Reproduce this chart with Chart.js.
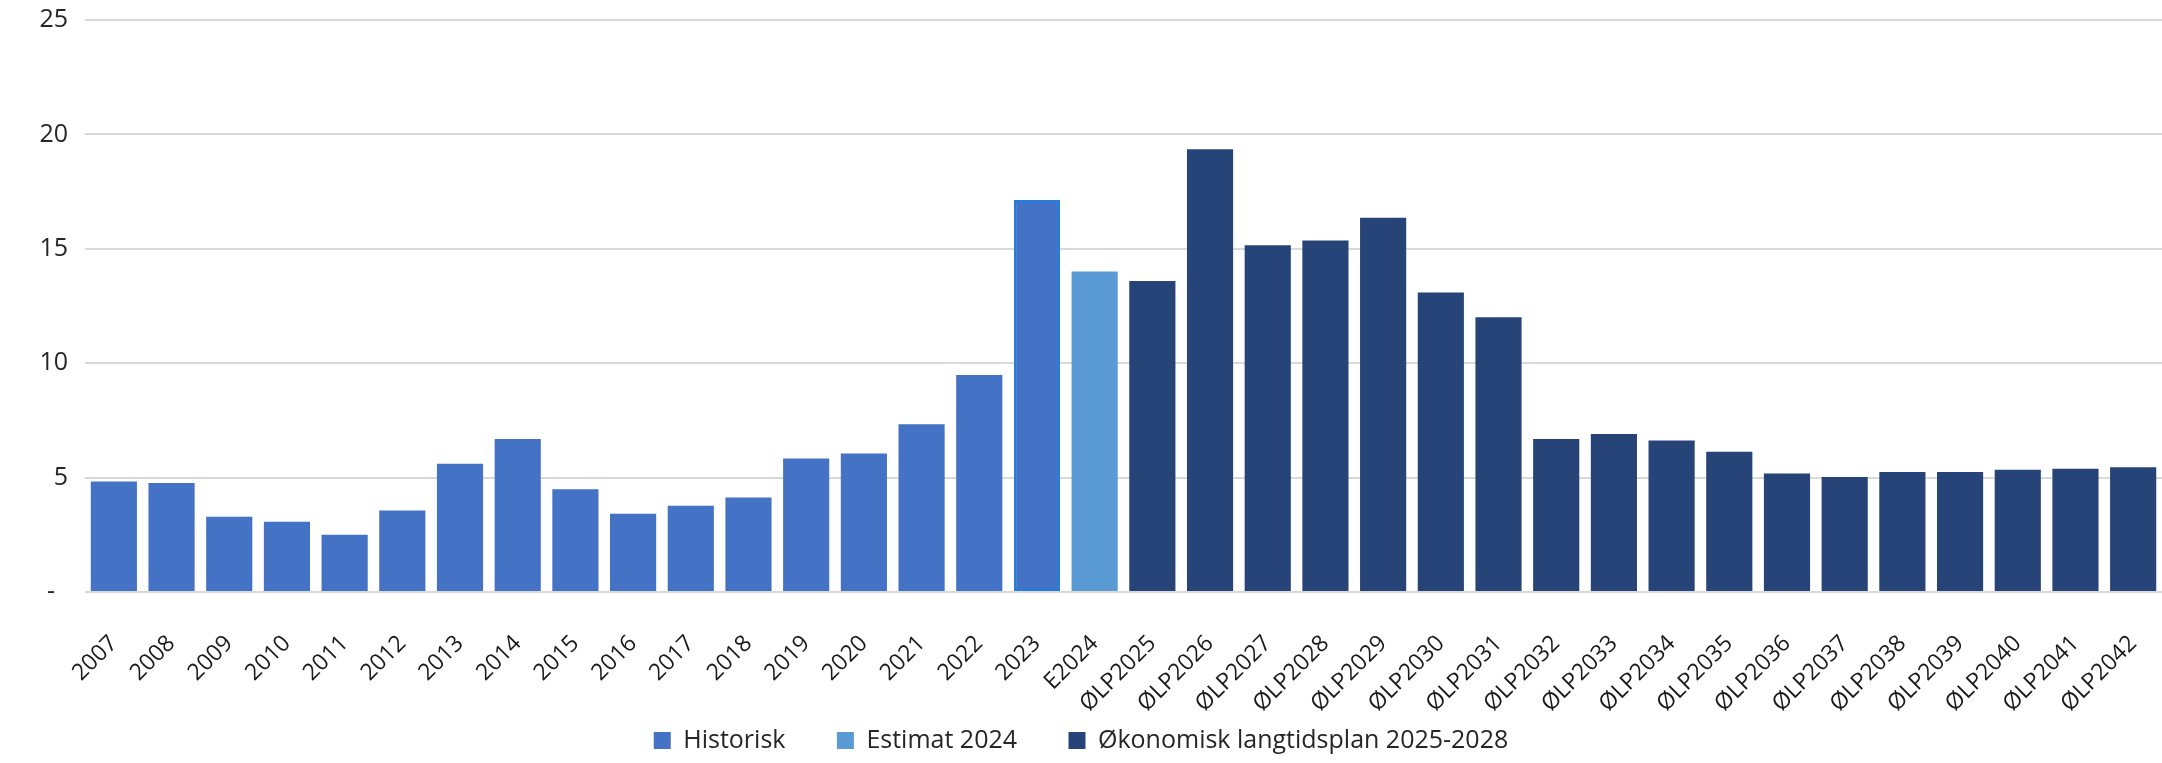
<!DOCTYPE html>
<html lang="no">
<head>
<meta charset="utf-8">
<title>Investeringer 2007-2042</title>
<script src="https://cdn.jsdelivr.net/npm/chart.js@4.4.1/dist/chart.umd.min.js"></script>
<style>
  html, body { margin: 0; padding: 0; background: #fff; }
  #wrap { width: 2162px; height: 763px; }
</style>
</head>
<body>
<div id="wrap"><canvas id="myChart"></canvas></div>
<script>
const categories = ["2007", "2008", "2009", "2010", "2011", "2012", "2013", "2014", "2015", "2016", "2017", "2018", "2019", "2020", "2021", "2022", "2023",
    "E2024",
    "ØLP2025", "ØLP2026", "ØLP2027", "ØLP2028", "ØLP2029", "ØLP2030", "ØLP2031", "ØLP2032", "ØLP2033", "ØLP2034", "ØLP2035", "ØLP2036", "ØLP2037", "ØLP2038", "ØLP2039", "ØLP2040", "ØLP2041", "ØLP2042"]
const historisk = [4.83, 4.76, 3.29, 3.07, 2.50, 3.56, 5.61, 6.69, 4.49, 3.42, 3.77, 4.13, 5.83, 6.05, 7.33, 9.48, 17.13]
const estimat = [14.01]
const okonomiskPlan = [13.59, 19.35, 15.16, 15.36, 16.36, 13.09, 12.01, 6.69, 6.91, 6.62, 6.13, 5.18, 5.03, 5.25, 5.25, 5.34, 5.39, 5.45]
const yTicks = [0, 5, 10, 15, 20, 25]
const seriesNames = ["Historisk", "Estimat 2024", "Økonomisk langtidsplan 2025-2028"]
const colors = ["#4472C4", "#5B9BD5", "#264478"]

document.addEventListener('DOMContentLoaded', () => {
    drawChart()
})

// put a short series at its place along the full category list
function placeSeries(values, start)
{
    let out = categories.map(() => null)
    values.forEach((v, i) => { out[start + i] = v })
    return out
}

function drawChart()
{
    let series = [historisk, estimat, okonomiskPlan]
    let start = 0
    let datasets = series.map((values, idx) => {
        let obj = {
            label: seriesNames[idx],
            data: placeSeries(values, start),
            backgroundColor: colors[idx],
            borderColor: "#2a7bd6",
            // the last historic bar has a brighter edge in the original
            borderWidth: ctx => (idx === 0 && ctx.type === 'data' && ctx.dataIndex === historisk.length - 1) ? 3 : 0,
            borderSkipped: false,
            grouped: false,
            categoryPercentage: 1,
            barPercentage: 0.8
        }
        start += values.length
        return obj
    })

    new Chart("myChart", {
        type: "bar",
        data: {
            labels: categories,
            datasets: datasets
        },
        options: {
            responsive: true,
            maintainAspectRatio: false,
            animation: false,
            devicePixelRatio: 1,
            layout: {
                padding: { top: 20, right: 0, bottom: 0, left: 0 }
            },
            plugins: {
                tooltip: { enabled: false },
                legend: {
                    position: "bottom",
                    labels: {
                        boxWidth: 17,
                        boxHeight: 17,
                        padding: 6,
                        color: "#262626",
                        font: { family: "'Open Sans'", size: 25 },
                        generateLabels: chart => {
                            let items = Chart.defaults.plugins.legend.labels.generateLabels(chart)
                            return items.map((item, i) => {
                                item.lineWidth = 0
                                if (i < items.length - 1) item.text = item.text + "       "
                                return item
                            })
                        }
                    }
                }
            },
            scales: {
                x: {
                    grid: { display: false, drawTicks: false },
                    border: { display: false },
                    ticks: {
                        autoSkip: false,
                        maxRotation: 45,
                        minRotation: 45,
                        padding: 38,
                        color: "#1a1a1a",
                        font: { family: "'Open Sans'", size: 23 }
                    },
                    afterFit: scale => {
                        scale.height = 130
                        scale.paddingLeft = 0
                        scale.paddingRight = 0
                    }
                },
                y: {
                    min: 0,
                    max: 25,
                    grid: { color: "#d9d9d9", lineWidth: 2, drawTicks: false },
                    border: { display: false },
                    afterBuildTicks: axis => { axis.ticks = yTicks.map(v => ({ value: v })) },
                    ticks: {
                        padding: 17,
                        color: "#262626",
                        font: { family: "'Open Sans'", size: 25 },
                        callback: value => value === 0 ? "-  " : value
                    },
                    afterFit: scale => {
                        scale.width = 85
                        scale.paddingTop = 0
                        scale.paddingBottom = 0
                    }
                }
            }
        }
    })
}
</script>
</body>
</html>
